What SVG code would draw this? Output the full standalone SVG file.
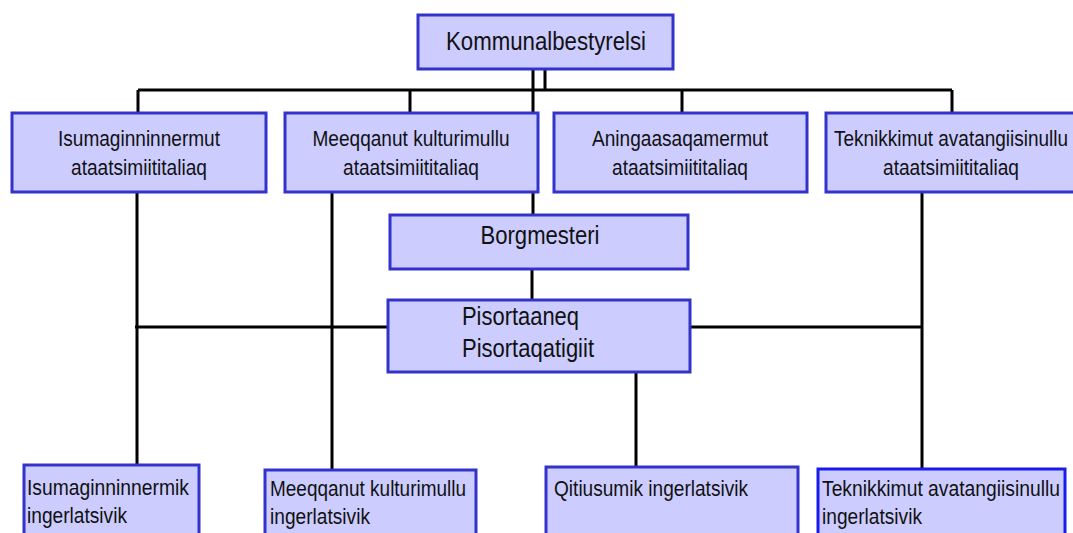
<svg xmlns="http://www.w3.org/2000/svg" width="1073" height="533" viewBox="0 0 1073 533">
<style>
.box{fill:#ccccff;stroke:#3333cc;stroke-width:3}
.boxb{fill:#ccccff;stroke:#1a1aee;stroke-width:3}
.ln{stroke:#000;stroke-width:3;fill:none}
text{font-family:"Liberation Sans",Arial,sans-serif;fill:#111}
.t1{font-size:25px}
.t2{font-size:22px}
.c{text-anchor:middle}
</style>
<rect width="1073" height="533" fill="#fff"/>
<g id="connectors">
<path class="ln" d="M533 69V215M545 69V90M138 90H952M138 90V113M410 90V113M682 90V113M952 90V113"/>
<path class="ln" d="M532 269V300"/>
<path class="ln" d="M137 192V465M332 192V470M922 192V469M636 372V467"/>
<path class="ln" d="M135 327H388M690 327H922"/>
</g>
<g id="kommunalbestyrelsi">
<rect class="box" x="418" y="15" width="255" height="54"/>
<text class="t1 c" x="546" y="50" textLength="200" lengthAdjust="spacingAndGlyphs">Kommunalbestyrelsi</text>
</g>
<g id="isumaginninnermut">
<rect class="box" x="12" y="113" width="254" height="79"/>
<text class="t2 c" x="139" y="146" textLength="162" lengthAdjust="spacingAndGlyphs">Isumaginninnermut</text>
<text class="t2 c" x="139" y="175" textLength="136" lengthAdjust="spacingAndGlyphs">ataatsimiititaliaq</text>
</g>
<g id="meeqqanut">
<rect class="box" x="285" y="113" width="253" height="79"/>
<text class="t2 c" x="411" y="146" textLength="197" lengthAdjust="spacingAndGlyphs">Meeqqanut kulturimullu</text>
<text class="t2 c" x="411" y="175" textLength="136" lengthAdjust="spacingAndGlyphs">ataatsimiititaliaq</text>
</g>
<g id="aningaasaqamermut">
<rect class="box" x="554" y="113" width="253" height="79"/>
<text class="t2 c" x="680" y="146" textLength="176" lengthAdjust="spacingAndGlyphs">Aningaasaqamermut</text>
<text class="t2 c" x="680" y="175" textLength="136" lengthAdjust="spacingAndGlyphs">ataatsimiititaliaq</text>
</g>
<g id="teknikkimut">
<rect class="box" x="826" y="113" width="252" height="79"/>
<text class="t2 c" x="951" y="146" textLength="234" lengthAdjust="spacingAndGlyphs">Teknikkimut avatangiisinullu</text>
<text class="t2 c" x="951" y="175" textLength="136" lengthAdjust="spacingAndGlyphs">ataatsimiititaliaq</text>
</g>
<g id="borgmesteri">
<rect class="box" x="390" y="215" width="298" height="54"/>
<text class="t1 c" x="540" y="244" textLength="119" lengthAdjust="spacingAndGlyphs">Borgmesteri</text>
</g>
<g id="pisortaaneq">
<rect class="box" x="388" y="300" width="302" height="72"/>
<text class="t1" x="462" y="325" textLength="117" lengthAdjust="spacingAndGlyphs">Pisortaaneq</text>
<text class="t1" x="462" y="357" textLength="132" lengthAdjust="spacingAndGlyphs">Pisortaqatigiit</text>
</g>
<g id="isumaginninnermik">
<rect class="box" x="24" y="465" width="175" height="80"/>
<text class="t2" x="27" y="495" textLength="162" lengthAdjust="spacingAndGlyphs">Isumaginninnermik</text>
<text class="t2" x="27" y="523" textLength="100" lengthAdjust="spacingAndGlyphs">ingerlatsivik</text>
</g>
<g id="meeqqanut-ingerlatsivik">
<rect class="box" x="265" y="470" width="211" height="80"/>
<text class="t2" x="270" y="496" textLength="196" lengthAdjust="spacingAndGlyphs">Meeqqanut kulturimullu</text>
<text class="t2" x="270" y="524" textLength="100" lengthAdjust="spacingAndGlyphs">ingerlatsivik</text>
</g>
<g id="qitiusumik">
<rect class="box" x="546" y="467" width="252" height="80"/>
<text class="t2" x="554" y="496" textLength="194" lengthAdjust="spacingAndGlyphs">Qitiusumik ingerlatsivik</text>
</g>
<g id="teknikkimut-ingerlatsivik">
<rect class="boxb" x="818" y="469" width="247" height="80"/>
<text class="t2" x="822" y="496" textLength="238" lengthAdjust="spacingAndGlyphs">Teknikkimut avatangiisinullu</text>
<text class="t2" x="822" y="524" textLength="100" lengthAdjust="spacingAndGlyphs">ingerlatsivik</text>
</g>
</svg>
